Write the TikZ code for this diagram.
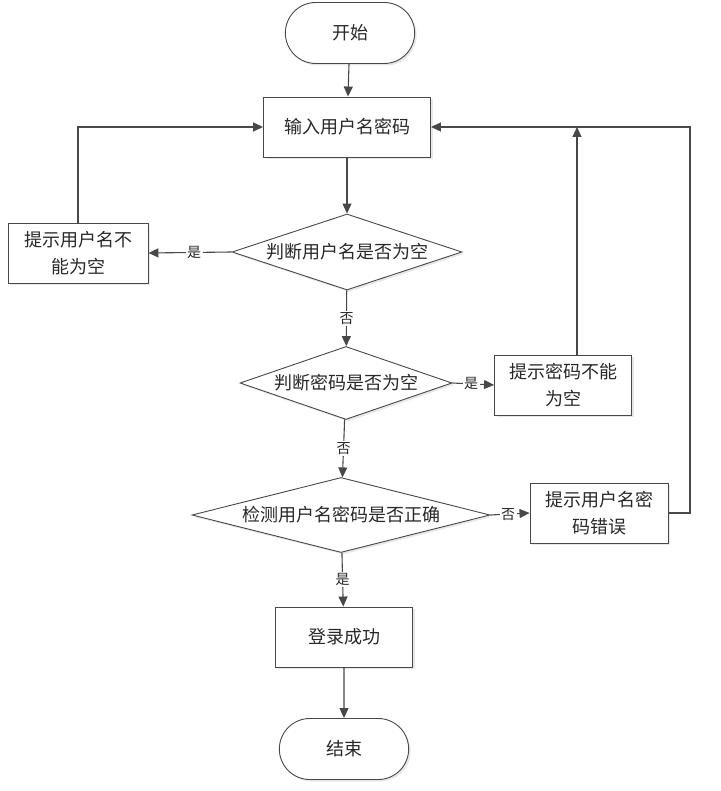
\documentclass[tikz,border=0pt]{standalone}
\usepackage{fontspec}
\setmainfont{Noto Sans CJK SC}
\usetikzlibrary{arrows.meta,shapes.geometric,shapes.misc,shadows}

\definecolor{linegrey}{RGB}{72,72,72}
\definecolor{textgrey}{RGB}{40,40,40}

\begin{document}
\begin{tikzpicture}[
    x=1pt,
    y=-1pt,
    font=\fontsize{18}{27}\selectfont,
    text=textgrey,
    shade/.style={drop shadow={opacity=0.18, shadow xshift=2pt, shadow yshift=-2pt}},
    terminal/.style={rounded rectangle, draw=linegrey, fill=white, line width=0.9pt,
        minimum width=136pt, minimum height=61pt, shade},
    procbox/.style={rectangle, draw=linegrey, fill=white, line width=0.9pt,
        minimum width=#1, minimum height=60pt, align=center, inner sep=2pt, shade},
    procbox/.default=137pt,
    decision/.style={diamond, draw=linegrey, fill=white, line width=0.9pt,
        inner sep=0pt, shade},
    flowline/.style={draw=linegrey, line width=1.1pt,
        -{Triangle[length=10pt, width=9pt]}},
    answer/.style={fill=white, inner sep=1.5pt, font=\fontsize{14}{16}\selectfont}
]

\path[use as bounding box] (0,0) rectangle (720,791);

% Main column.
\node[terminal] (start) at (350,33) {开始};
\node[procbox=167pt] (input) at (347,127) {输入用户名密码};
\node[decision, minimum width=230pt, minimum height=76pt, aspect=3] (chkuser) at (347,252) {判断用户名是否为空};
\node[decision, minimum width=212pt, minimum height=73pt, aspect=2.9] (chkpass) at (346,383) {判断密码是否为空};
\node[decision, minimum width=298pt, minimum height=75pt, aspect=4] (chkboth) at (341,515) {检测用户名密码是否正确};
\node[procbox] (success) at (344,637) {登录成功};
\node[terminal] (finish) at (344,749) {结束};

% Warning boxes on both sides.
\node[procbox=140pt] (warnuser) at (78,253) {提示用户名不\\能为空};
\node[procbox] (warnpass) at (563,385) {提示密码不能\\为空};
\node[procbox=138pt] (warnboth) at (599,513) {提示用户名密\\码错误};
\coordinate (rightrail) at (690,127);

% Straight flow.
\draw[flowline] (start) -- (input);
\draw[flowline] (input) -- (chkuser);
\draw[flowline] (chkuser) -- node[answer] {否} (chkpass);
\draw[flowline] (chkpass) -- node[answer] {否} (chkboth);
\draw[flowline] (chkboth) -- node[answer] {是} (success);
\draw[flowline] (success) -- (finish);

% Branches and the loops back to the input.
\draw[flowline] (chkuser.west) -- node[answer, pos=0.45] {是} (warnuser.east);
\draw[flowline] (warnuser.north) |- (input.west);
\draw[flowline] (chkpass.east) -- node[answer, pos=0.45] {是} (warnpass.west);
\draw[flowline] ([xshift=14pt]warnpass.north) -- ([xshift=14pt]warnpass.north |- input.east);
\draw[flowline] (chkboth.east) -- node[answer, pos=0.45] {否} (warnboth.west);
\draw[flowline] (warnboth.east) -| (rightrail) -- (input.east);

\end{tikzpicture}
\end{document}
